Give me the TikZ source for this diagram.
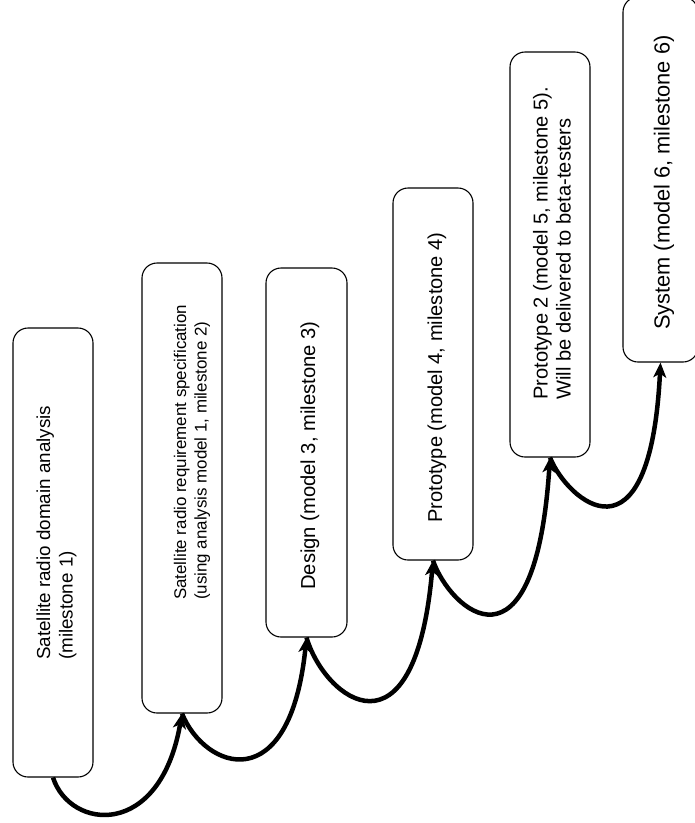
\documentclass[tikz,border=0pt]{standalone}
\usepackage{fontspec}
\setmainfont{Liberation Sans}
\usetikzlibrary{arrows.meta}
\begin{document}
\begin{tikzpicture}[x=1pt,y=-1pt,
  box/.style={draw=black,line width=1.1pt,rounded corners=15pt,fill=white,minimum width=80pt,inner sep=0pt},
  lbl/.style={rotate=90,anchor=west,inner sep=0pt,align=left},
  conn/.style={line width=4.5pt,-{Stealth[length=15pt,width=13pt,inset=4pt]}}]
\useasboundingbox (0,0) rectangle (695,823);
\node[box,minimum height=449pt] (b1) at (53,552.5) {};
\node[box,minimum height=450pt] (b2) at (182,488) {};
\node[box,minimum width=81pt,minimum height=369pt] (b3) at (306.5,452.5) {};
\node[box,minimum height=372pt] (b4) at (433,374) {};
\node[box,minimum height=405pt] (b5) at (550,254.5) {};
\node[box,minimum width=75pt,minimum height=365pt] (b6) at (660.5,179.5) {};
\node[lbl,font=\fontsize{18.8}{22.5}\selectfont] (t1) at (56.5,660) {Satellite radio domain analysis\\(milestone 1)};
\node[lbl,font=\fontsize{16.9}{20.5}\selectfont] (t2) at (192,600) {Satellite radio requirement specification\\(using analysis model 1, milestone 2)};
\node[lbl,font=\fontsize{20.2}{23}\selectfont] (t3) at (310,590) {Design (model 3, milestone 3)};
\node[lbl,font=\fontsize{20.1}{23}\selectfont] (t4) at (437,523) {Prototype (model 4, milestone 4)};
\node[lbl,font=\fontsize{20.1}{23}\selectfont] (t5) at (552,400) {Prototype 2 (model 5, milestone 5).\\Will be delivered to beta-testers};
\node[lbl,font=\fontsize{21.8}{25}\selectfont] (t6) at (664,330) {System (model 6, milestone 6)};
\draw[conn] (b1.south) .. controls (70,830) and (160,840) .. (b2.south);
\draw[conn] (b2.south) .. controls (205,770) and (290,800) .. (b3.south);
\draw[conn] (b3.south) .. controls (325,700) and (415,767) .. (b4.south);
\draw[conn] (b4.south) .. controls (450,610) and (535,686) .. (b5.south);
\draw[conn] (b5.south) .. controls (567,500) and (650,574) .. (b6.south);
\end{tikzpicture}
\end{document}
